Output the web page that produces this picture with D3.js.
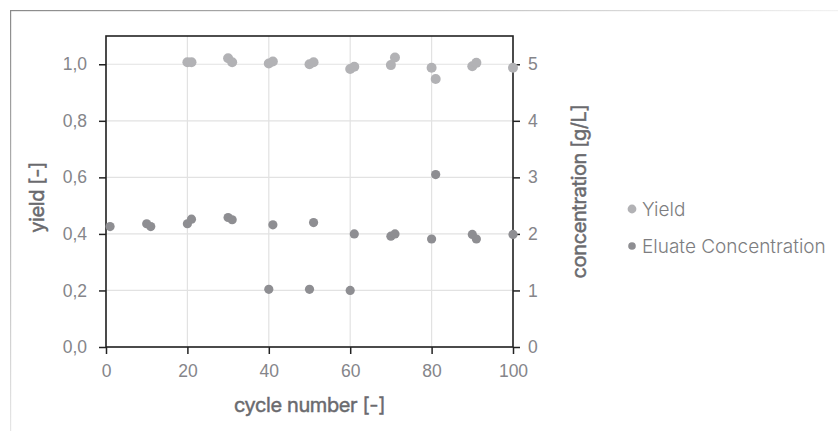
<!DOCTYPE html>
<html><head><meta charset="utf-8">
<script src="https://cdn.jsdelivr.net/npm/d3@7"></script>
<style>
html,body{margin:0;padding:0;background:#fff;}
svg{display:block;font-family:Inter,"Noto Sans",sans-serif;}
</style></head>
<body><svg id="c" width="838" height="431"></svg>
<script>
const xTicks = [0,20,40,60,80,100];
const yLeftTicks = [0,0.2,0.4,0.6,0.8,1.0];
const yRightTicks = [0,1,2,3,4,5];

const yieldCycle = [20,21,30,31,40,41,50,51,60,61,70,71,80,81,90,91,100];
const yieldValue = [1.007,1.007,1.021,1.007,1.003,1.010,1.000,1.007,0.983,0.991,0.997,1.024,0.988,0.948,0.993,1.005,0.988];

const concCycle = [1,10,11,20,21,30,31,41,51,61,70,71,80,81,90,91,100,40,50,60];
const concValue = [2.13,2.18,2.13,2.18,2.26,2.29,2.25,2.16,2.20,2.00,1.96,2.00,1.91,3.05,1.99,1.91,1.99,1.02,1.02,1.00];

const seriesNames = ["Yield","Eluate Concentration"];
const seriesColors = ["#b2b2b5","#8e8e92"];

const svg = d3.select("#c");
const L=106, R=513, T=36, B=347;
const x = d3.scaleLinear([0,100],[L,R]);
const yL = d3.scaleLinear([0,1.1],[B,T]);
const yR = d3.scaleLinear([0,5.5],[B,T]);

// outer fading border
const defs = svg.append("defs");
const gH = defs.append("linearGradient").attr("id","gh").attr("x1","0").attr("x2","1").attr("y1","0").attr("y2","0");
gH.append("stop").attr("offset","0").attr("stop-color","#8a8a8a");
gH.append("stop").attr("offset","1").attr("stop-color","#f2f2f2");
const gV = defs.append("linearGradient").attr("id","gv").attr("x1","0").attr("x2","0").attr("y1","0").attr("y2","1");
gV.append("stop").attr("offset","0").attr("stop-color","#8a8a8a");
gV.append("stop").attr("offset","1").attr("stop-color","#e6e6e6");
svg.append("rect").attr("x",10).attr("y",10).attr("width",828).attr("height",1.2).attr("fill","url(#gh)");
svg.append("rect").attr("x",10).attr("y",10).attr("width",1.2).attr("height",421).attr("fill","url(#gv)");

// grid
const grid = svg.append("g").attr("stroke","#e2e2e2").attr("stroke-width",1.2);
grid.selectAll("line.v").data(xTicks).join("line").attr("x1",d=>x(d)).attr("x2",d=>x(d)).attr("y1",T).attr("y2",B);
grid.selectAll("line.h").data(yLeftTicks).join("line").attr("x1",L).attr("x2",R).attr("y1",d=>yL(d)).attr("y2",d=>yL(d));

const fmt = d => d3.format(".1f")(d).replace(".",",");
const axStyle = g => {
  g.select(".domain").remove();
  g.selectAll(".tick line").attr("stroke","#222").attr("stroke-width",1.5);
  g.selectAll(".tick text").attr("fill","#85858a").attr("font-size",17.5).attr("font-weight",300);
};
svg.append("g").attr("transform",`translate(${L},0)`)
  .call(d3.axisLeft(yL).tickValues(yLeftTicks).tickFormat(fmt).tickSize(7).tickPadding(12)).call(axStyle);
svg.append("g").attr("transform",`translate(${R},0)`)
  .call(d3.axisRight(yR).tickValues(yRightTicks).tickFormat(d3.format("d")).tickSize(7).tickPadding(8)).call(axStyle);
svg.append("g").attr("transform",`translate(0,${B})`)
  .call(d3.axisBottom(x).tickValues(xTicks).tickFormat(d3.format("d")).tickSize(7).tickPadding(11)).call(axStyle);

// frame
svg.append("rect").attr("x",L).attr("y",T).attr("width",R-L).attr("height",B-T)
  .attr("fill","none").attr("stroke","#222").attr("stroke-width",1.6);

// points
svg.append("g").selectAll("circle").data(yieldCycle.map((c,i)=>[c,yieldValue[i]])).join("circle")
  .attr("cx",d=>x(d[0])).attr("cy",d=>yL(d[1])).attr("r",5).attr("fill",seriesColors[0]);
svg.append("g").selectAll("circle").data(concCycle.map((c,i)=>[c,concValue[i]])).join("circle")
  .attr("cx",d=>x(d[0])).attr("cy",d=>yR(d[1])).attr("r",4.6).attr("fill",seriesColors[1]);

// titles
const titleColor = "#6a6a6e";
const tStyle = s => s.attr("text-anchor","middle").attr("fill",titleColor).attr("font-size",20)
  .attr("font-weight",400).attr("stroke",titleColor).attr("stroke-width",0.45).attr("letter-spacing","-0.4");
svg.append("text").attr("x",(L+R)/2).attr("y",412).call(tStyle).text("cycle number [-]");
svg.append("text").attr("transform",`translate(44,${(T+B)/2+6}) rotate(-90)`).call(tStyle).text("yield [-]");
svg.append("text").attr("transform",`translate(586,${(T+B)/2}) rotate(-90)`).call(tStyle).text("concentration [g/L]");

// legend
const lg = svg.append("g");
seriesNames.forEach((n,i)=>{
  const yy = 209 + i*37;
  lg.append("circle").attr("cx",632).attr("cy",yy).attr("r",i===0?4.4:3.8).attr("fill",seriesColors[i]);
  lg.append("text").attr("x",642).attr("y",yy).attr("dy","0.35em").attr("fill","#7d7d80")
    .attr("font-size",19).attr("font-weight",300).text(n);
});
</script></body></html>
